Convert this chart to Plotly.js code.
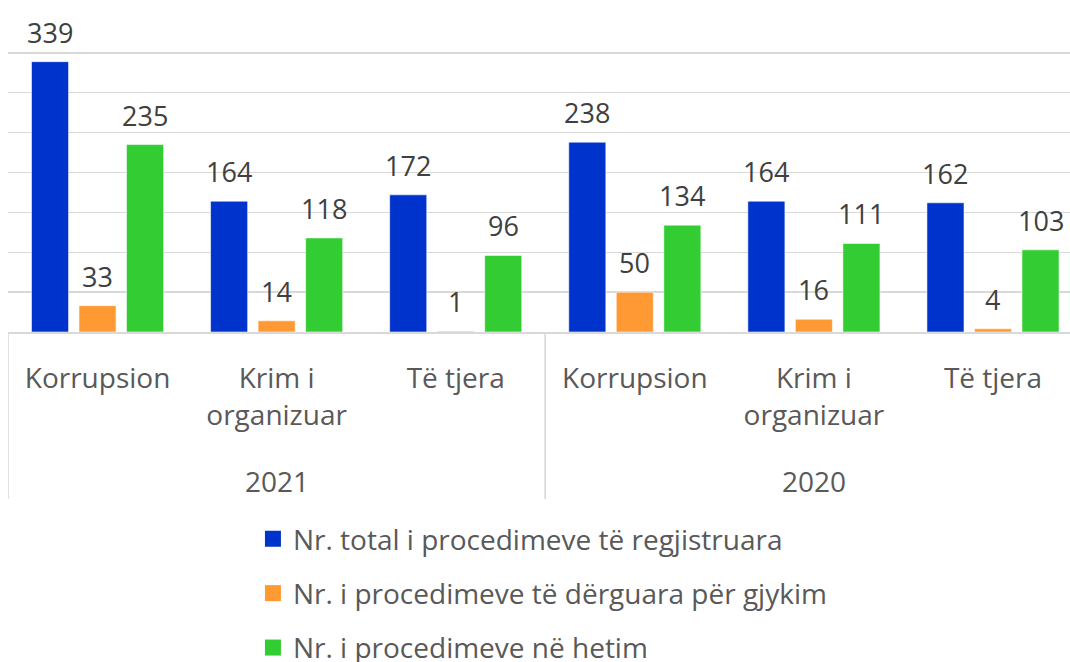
<!DOCTYPE html>
<html>
<head>
<meta charset="utf-8">
<script src="https://cdn.plot.ly/plotly-3.0.1.min.js"></script>
<style>
  html, body { margin: 0; padding: 0; background: #ffffff; overflow: hidden; }
  #chart { width: 1070px; height: 662px; }
</style>
</head>
<body>
<div id="chart"></div>
<script>
// ---- data ----
const years = ['2021', '2021', '2021', '2020', '2020', '2020'];
const categories = ['Korrupsion', 'Krim i organizuar', 'Të tjera', 'Korrupsion', 'Krim i organizuar', 'Të tjera'];
const tickLabels = ['Korrupsion', 'Krim i<br>organizuar', 'Të tjera', 'Korrupsion', 'Krim i<br>organizuar', 'Të tjera'];
const seriesNames = [
  'Nr. total i procedimeve të regjistruara',
  'Nr. i procedimeve të dërguara për gjykim',
  'Nr. i procedimeve në hetim'
];
const totalRegistered = [339, 164, 172, 238, 164, 162];
const sentToTrial = [33, 14, 1, 50, 16, 4];
const underInvestigation = [235, 118, 96, 134, 111, 103];
const seriesValues = [totalRegistered, sentToTrial, underInvestigation];
const seriesColors = ['#0033CC', '#FF9933', '#33CC33'];

const FONT = '"Open Sans", "Noto Sans", "DejaVu Sans", sans-serif';
const BARGAP = 0.204;
const BARGROUPGAP = 0.22;

// category slots along the axis (one per year/category pair)
const idx = categories.map((_, i) => i);

const traces = [];
seriesValues.forEach((vals, i) => {
  traces.push({
    type: 'bar',
    x: idx,
    y: vals,
    name: seriesNames[i],
    showlegend: false,
    marker: { color: seriesColors[i], line: { color: 'rgba(255,255,255,0.55)', width: 1 } },
    customdata: categories.map((c, k) => c + ' ' + years[k]),
    hovertemplate: '%{customdata}: %{y}<extra>' + seriesNames[i] + '</extra>'
  });
});
// legend entries (square symbols)
seriesNames.forEach((nm, i) => {
  traces.push({
    type: 'scatter',
    mode: 'markers',
    x: [null],
    y: [null],
    name: nm,
    legendgroup: 'g' + i,
    showlegend: true,
    marker: { symbol: 'square', size: 18, color: seriesColors[i] },
    hoverinfo: 'skip'
  });
});

// value labels above each bar (placed in data coordinates)
const annotations = [];
const nSeries = seriesValues.length;
const slot = (1 - BARGAP) / nSeries;
seriesValues.forEach((vals, i) => {
  vals.forEach((v, k) => {
    annotations.push({
      x: idx[k] + (i - (nSeries - 1) / 2) * slot,
      y: v,
      xref: 'x', yref: 'y',
      text: String(v),
      showarrow: false,
      xanchor: 'center',
      yanchor: 'bottom',
      yshift: 9,
      font: { family: FONT, size: 27, color: '#404040' }
    });
  });
});

// year group labels and dividers
const uniqueYears = [...new Set(years)];
const shapes = [];
const plotH = 662 - 13 - 330;
uniqueYears.forEach(yr => {
  const members = idx.filter(k => years[k] === yr);
  const first = Math.min(...members), last = Math.max(...members);
  annotations.push({
    x: (first + last) / 2,
    y: -(481 - 332) / plotH,
    xref: 'x', yref: 'paper',
    text: yr,
    showarrow: false,
    xanchor: 'center',
    yanchor: 'middle',
    font: { family: FONT, size: 28, color: '#595959' }
  });
  [first - 0.5, last + 0.5].forEach(b => {
    shapes.push({
      type: 'line', xref: 'x', yref: 'paper',
      x0: b, x1: b, y0: 0, y1: -(499 - 332) / plotH,
      line: { color: '#D9D9D9', width: 1.5 }
    });
  });
});

const layout = {
  width: 1070,
  height: 662,
  margin: { l: 8, r: 0, t: 13, b: 330, autoexpand: false },
  paper_bgcolor: '#ffffff',
  plot_bgcolor: '#ffffff',
  font: { family: FONT, size: 28, color: '#595959' },
  barmode: 'group',
  bargap: BARGAP,
  bargroupgap: BARGROUPGAP,
  showlegend: true,
  annotations: annotations,
  shapes: shapes,
  legend: {
    orientation: 'v',
    xref: 'container',
    yref: 'container',
    x: 0.2364,
    xanchor: 'left',
    y: 0.2235,
    yanchor: 'top',
    traceorder: 'grouped',
    tracegroupgap: 15,
    font: { family: FONT, size: 28, color: '#595959' },
    bgcolor: 'rgba(0,0,0,0)'
  },
  xaxis: {
    type: 'linear',
    range: [-0.5, 5.43],
    tickmode: 'array',
    tickvals: idx,
    ticktext: tickLabels,
    tickangle: 0,
    ticklabelstandoff: 21,
    showline: true,
    linecolor: '#D9D9D9',
    linewidth: 1.5,
    ticks: '',
    showgrid: false,
    zeroline: false,
    tickfont: { family: FONT, size: 28, color: '#595959' },
    fixedrange: true
  },
  yaxis: {
    range: [0, 400],
    dtick: 50,
    tick0: 0,
    showgrid: true,
    gridcolor: '#D9D9D9',
    gridwidth: 1.3,
    showticklabels: false,
    zeroline: false,
    showline: false,
    ticks: '',
    fixedrange: true
  }
};

Plotly.newPlot('chart', traces, layout, { displayModeBar: false, staticPlot: true });
</script>
</body>
</html>
